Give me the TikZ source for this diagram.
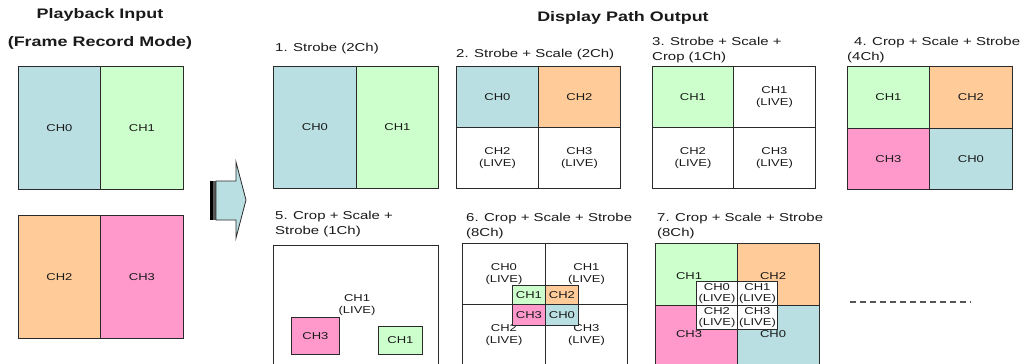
\documentclass[tikz,border=0pt]{standalone}
\usepackage{fontspec}
\setmainfont{Liberation Sans}[FakeStretch=1.3]
\definecolor{cblue}{HTML}{B9DFE3}
\definecolor{cgreen}{HTML}{CCFFCC}
\definecolor{corange}{HTML}{FFCC99}
\definecolor{cpink}{HTML}{FF99CC}
\definecolor{linec}{HTML}{2A2A2A}
\definecolor{txtc}{HTML}{1A1A1A}
\definecolor{dashc}{HTML}{555555}
\newcommand\lblfont{\fontsize{10}{12}\selectfont}
\newcommand\smlfont{\fontsize{10}{11}\selectfont}
\newcommand\ttlfont{\fontsize{11.5}{15}\selectfont}
\newcommand\hdfont{\fontsize{13.8}{16}\selectfont\bfseries}
\begin{document}
\begin{tikzpicture}[x=1pt,y=-1pt,
  cell/.style={draw=linec, line width=0.9pt, inner sep=0pt, anchor=north west,
               align=center, font=\lblfont, text=txtc},
  smallcell/.style={cell, font=\smlfont},
  lbl/.style={inner sep=0pt, align=center, font=\lblfont, text=txtc},
  ttl/.style={inner sep=0pt, anchor=west, align=left, font=\ttlfont, text=txtc},
  hd/.style={inner sep=0pt, align=center, font=\hdfont, text=txtc}]
\clip (0,0) rectangle (1031,364);
\fill[white] (0,0) rectangle (1031,364);

% headings
\node[hd] (hin1) at (100,15) {Playback Input};
\node[hd] (hin2) at (100,43) {(Frame Record Mode)};
\node[hd] (hout) at (623,18) {Display Path Output};

% playback input
\node[cell, fill=cblue,   minimum width=82pt, minimum height=123pt] (i0) at (18,66)  {CH0};
\node[cell, fill=cgreen,  minimum width=83pt, minimum height=123pt] (i1) at (100,66) {CH1};
\node[cell, fill=corange, minimum width=82pt, minimum height=123pt] (i2) at (18,215) {CH2};
\node[cell, fill=cpink,   minimum width=83pt, minimum height=123pt] (i3) at (100,215) {CH3};

% arrow
\fill[black] (210,181) rectangle (213,220);
\fill[gray!70!black] (213,181) rectangle (216,220);
\draw[linec, line width=0.8pt, fill=cblue] (216,181) -- (236,181) -- (236,162) -- (246,200)
   -- (236,238) -- (236,220) -- (216,220) -- cycle;

% panel 1
\node[ttl] (t1) at (275,49) {1. Strobe (2Ch)};
\node[cell, fill=cblue,  minimum width=83pt, minimum height=122pt] (p1a) at (273,66) {CH0};
\node[cell, fill=cgreen, minimum width=82pt, minimum height=122pt] (p1b) at (356,66) {CH1};

% panel 2
\node[ttl] (t2) at (456,55) {2. Strobe + Scale (2Ch)};
\node[cell, fill=cblue,   minimum width=82pt, minimum height=61pt] (p2a) at (456,66)  {CH0};
\node[cell, fill=corange, minimum width=82pt, minimum height=61pt] (p2b) at (538,66)  {CH2};
\node[cell, minimum width=82pt, minimum height=61pt] (p2c) at (456,127) {CH2\\(LIVE)};
\node[cell, minimum width=82pt, minimum height=61pt] (p2d) at (538,127) {CH3\\(LIVE)};

% panel 3
\node[ttl] (t3) at (652,50.5) {3. Strobe + Scale +\\Crop (1Ch)};
\node[cell, fill=cgreen, minimum width=81pt, minimum height=61pt] (p3a) at (652,66)  {CH1};
\node[cell, minimum width=82pt, minimum height=61pt] (p3b) at (733,66)  {CH1\\(LIVE)};
\node[cell, minimum width=81pt, minimum height=61pt] (p3c) at (652,127) {CH2\\(LIVE)};
\node[cell, minimum width=82pt, minimum height=61pt] (p3d) at (733,127) {CH3\\(LIVE)};

% panel 4
\node[ttl] (t4) at (847,50.5) {\hspace*{7pt}4. Crop + Scale + Strobe\\(4Ch)};
\node[cell, fill=cgreen,  minimum width=82pt, minimum height=62pt] (p4a) at (847,66)  {CH1};
\node[cell, fill=corange, minimum width=83pt, minimum height=62pt] (p4b) at (929,66)  {CH2};
\node[cell, fill=cpink,   minimum width=82pt, minimum height=61pt] (p4c) at (847,128) {CH3};
\node[cell, fill=cblue,   minimum width=83pt, minimum height=61pt] (p4d) at (929,128) {CH0};

% panel 5
\node[ttl] (t5) at (275,224.5) {5. Crop + Scale +\\Strobe (1Ch)};
\node[cell, minimum width=165pt, minimum height=125pt] (p5) at (273,245) {};
\node[lbl] (p5l) at (357,305) {CH1\\(LIVE)};
\node[cell, fill=cpink,  minimum width=48pt, minimum height=37pt] (p5a) at (291,317) {CH3};
\node[cell, fill=cgreen, minimum width=44pt, minimum height=28pt] (p5b) at (378,326) {CH1};

% panel 6
\node[ttl] (t6) at (466,226) {6. Crop + Scale + Strobe\\(8Ch)};
\node[cell, minimum width=83pt, minimum height=61pt] (p6a) at (462,243) {CH0\\(LIVE)};
\node[cell, minimum width=82pt, minimum height=61pt] (p6b) at (545,243) {CH1\\(LIVE)};
\node[cell, minimum width=83pt, minimum height=62pt] (p6c) at (462,304) {CH2\\(LIVE)};
\node[cell, minimum width=82pt, minimum height=62pt] (p6d) at (545,304) {CH3\\(LIVE)};
\node[cell, fill=cgreen,  minimum width=33pt, minimum height=19pt] (p6e) at (512,285) {CH1};
\node[cell, fill=corange, minimum width=33pt, minimum height=19pt] (p6f) at (545,285) {CH2};
\node[cell, fill=cpink,   minimum width=33pt, minimum height=21pt] (p6g) at (512,304) {CH3};
\node[cell, fill=cblue,   minimum width=33pt, minimum height=21pt] (p6h) at (545,304) {CH0};

% panel 7
\node[ttl] (t7) at (657,226) {7. Crop + Scale + Strobe\\(8Ch)};
\node[cell, fill=cgreen,  minimum width=82pt, minimum height=62pt] (p7a) at (655,243) {};
\node[cell, fill=corange, minimum width=82pt, minimum height=62pt] (p7b) at (737,243) {};
\node[cell, fill=cpink,   minimum width=82pt, minimum height=61pt] (p7c) at (655,305) {};
\node[cell, fill=cblue,   minimum width=82pt, minimum height=61pt] (p7d) at (737,305) {};
\node[lbl] (p7al) at (689,276) {CH1};
\node[lbl] (p7bl) at (773,276) {CH2};
\node[lbl] (p7cl) at (689,334) {CH3};
\node[lbl] (p7dl) at (773,334) {CH0};
\node[smallcell, fill=white, minimum width=41pt, minimum height=24pt] (p7e) at (696,281) {CH0\\(LIVE)};
\node[smallcell, fill=white, minimum width=40pt, minimum height=24pt] (p7f) at (737,281) {CH1\\(LIVE)};
\node[smallcell, fill=white, minimum width=41pt, minimum height=24pt] (p7g) at (696,305) {CH2\\(LIVE)};
\node[smallcell, fill=white, minimum width=40pt, minimum height=24pt] (p7h) at (737,305) {CH3\\(LIVE)};

% more
\coordinate (d1) at (850,302);
\coordinate (d2) at (971,302);
\draw[dashc, line width=1.2pt, dash pattern=on 6pt off 4pt] (d1) -- (d2);
\end{tikzpicture}
\end{document}
